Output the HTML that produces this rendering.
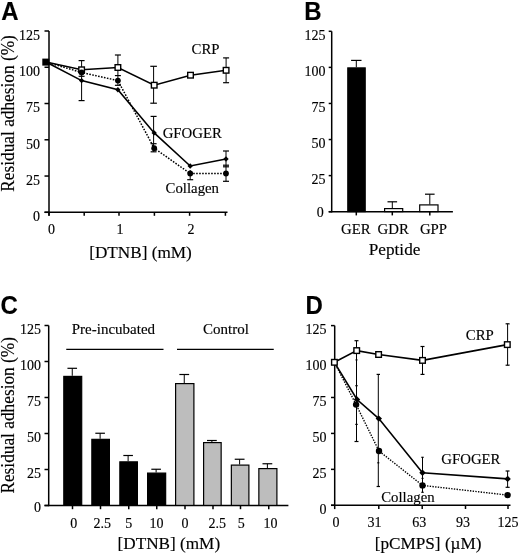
<!DOCTYPE html>
<html><head><meta charset="utf-8"><style>
html,body{margin:0;padding:0;background:#fff;}
svg{display:block;will-change:transform;}
</style></head><body>
<svg width="520" height="555" viewBox="0 0 520 555" stroke="#000" fill="#000">
<g stroke="#000" fill="#000">
<text stroke="#000" stroke-width="0.15" transform="translate(1.3,20.0) scale(0.98,1.06)" font-size="24.5" font-family="'Liberation Sans', sans-serif" font-weight="bold">A</text>
<text stroke="#000" stroke-width="0.15" transform="translate(14.2,191.7) rotate(-90) scale(1,1.08)" font-size="17.3" font-family="'Liberation Serif', serif">Residual adhesion (%)</text>
<line x1="49" y1="31" x2="49" y2="215.8" stroke-width="1.5" />
<line x1="44.5" y1="212.3" x2="227.5" y2="212.3" stroke-width="1.5" />
<line x1="44.5" y1="212.3" x2="49" y2="212.3" stroke-width="1.5" />
<text stroke="#000" stroke-width="0.15" x="40" y="221.1" font-size="14" text-anchor="end" font-family="'Liberation Serif', serif" font-weight="normal" >0</text>
<line x1="44.5" y1="176.04" x2="49" y2="176.04" stroke-width="1.5" />
<text stroke="#000" stroke-width="0.15" x="40" y="184.84" font-size="14" text-anchor="end" font-family="'Liberation Serif', serif" font-weight="normal" >25</text>
<line x1="44.5" y1="139.78" x2="49" y2="139.78" stroke-width="1.5" />
<text stroke="#000" stroke-width="0.15" x="40" y="148.58" font-size="14" text-anchor="end" font-family="'Liberation Serif', serif" font-weight="normal" >50</text>
<line x1="44.5" y1="103.52" x2="49" y2="103.52" stroke-width="1.5" />
<text stroke="#000" stroke-width="0.15" x="40" y="112.32" font-size="14" text-anchor="end" font-family="'Liberation Serif', serif" font-weight="normal" >75</text>
<line x1="44.5" y1="67.26" x2="49" y2="67.26" stroke-width="1.5" />
<text stroke="#000" stroke-width="0.15" x="40" y="76.06" font-size="14" text-anchor="end" font-family="'Liberation Serif', serif" font-weight="normal" >100</text>
<line x1="44.5" y1="31.0" x2="49" y2="31.0" stroke-width="1.5" />
<text stroke="#000" stroke-width="0.15" x="40" y="39.8" font-size="14" text-anchor="end" font-family="'Liberation Serif', serif" font-weight="normal" >125</text>
<line x1="49" y1="212.3" x2="49" y2="215.8" stroke-width="1.5" />
<line x1="84.2" y1="212.3" x2="84.2" y2="215.8" stroke-width="1.5" />
<line x1="119" y1="212.3" x2="119" y2="215.8" stroke-width="1.5" />
<line x1="154.4" y1="212.3" x2="154.4" y2="215.8" stroke-width="1.5" />
<line x1="189.6" y1="212.3" x2="189.6" y2="215.8" stroke-width="1.5" />
<line x1="225.4" y1="212.3" x2="225.4" y2="215.8" stroke-width="1.5" />
<text stroke="#000" stroke-width="0.15" x="51.4" y="234" font-size="14" text-anchor="middle" font-family="'Liberation Serif', serif" font-weight="normal" >0</text>
<text stroke="#000" stroke-width="0.15" x="120" y="234" font-size="14" text-anchor="middle" font-family="'Liberation Serif', serif" font-weight="normal" >1</text>
<text stroke="#000" stroke-width="0.15" x="191" y="234" font-size="14" text-anchor="middle" font-family="'Liberation Serif', serif" font-weight="normal" >2</text>
<text stroke="#000" stroke-width="0.15" x="89.2" y="257.6" font-size="17.2" text-anchor="start" font-family="'Liberation Serif', serif" font-weight="normal" >[DTNB] (mM)</text>
<line x1="81.6" y1="60.6" x2="81.6" y2="100.6" stroke-width="1.0" />
<line x1="78.6" y1="60.6" x2="84.6" y2="60.6" stroke-width="1.2" />
<line x1="78.6" y1="100.6" x2="84.6" y2="100.6" stroke-width="1.2" />
<line x1="78.6" y1="76.3" x2="84.6" y2="76.3" stroke-width="1.2" />
<line x1="117.9" y1="55" x2="117.9" y2="85.3" stroke-width="1.0" />
<line x1="114.9" y1="55" x2="120.9" y2="55" stroke-width="1.2" />
<line x1="114.9" y1="85.3" x2="120.9" y2="85.3" stroke-width="1.2" />
<line x1="114.9" y1="75.6" x2="120.9" y2="75.6" stroke-width="1.2" />
<line x1="153.6" y1="66.3" x2="153.6" y2="103.2" stroke-width="1.0" />
<line x1="150.3" y1="66.3" x2="156.9" y2="66.3" stroke-width="1.2" />
<line x1="150.3" y1="103.2" x2="156.9" y2="103.2" stroke-width="1.2" />
<line x1="153.6" y1="116.4" x2="153.6" y2="151.8" stroke-width="1.0" />
<line x1="150.6" y1="116.4" x2="156.6" y2="116.4" stroke-width="1.2" />
<line x1="150.6" y1="151.8" x2="156.6" y2="151.8" stroke-width="1.2" />
<line x1="150.6" y1="143.7" x2="156.6" y2="143.7" stroke-width="1.2" />
<line x1="190.2" y1="170" x2="190.2" y2="179.7" stroke-width="1.0" />
<line x1="187.2" y1="179.7" x2="193.2" y2="179.7" stroke-width="1.2" />
<line x1="226" y1="151" x2="226" y2="181.3" stroke-width="1.0" />
<line x1="223.0" y1="151" x2="229.0" y2="151" stroke-width="1.2" />
<line x1="223.0" y1="181.3" x2="229.0" y2="181.3" stroke-width="1.2" />
<line x1="223.0" y1="165.2" x2="229.0" y2="165.2" stroke-width="1.2" />
<line x1="223.0" y1="166.8" x2="229.0" y2="166.8" stroke-width="1.2" />
<line x1="226.1" y1="57.9" x2="226.1" y2="82.7" stroke-width="1.0" />
<line x1="223.1" y1="57.9" x2="229.1" y2="57.9" stroke-width="1.2" />
<line x1="223.1" y1="82.7" x2="229.1" y2="82.7" stroke-width="1.2" />
<polyline points="46,62 81.6,72.5 117.9,80.6 154.2,148.2 190.2,173.5 226,173.5" fill="none" stroke-width="1.5" stroke-dasharray="1.6,1.4"/>
<polyline points="46,62 81.6,80.6 117.9,89.7 154.2,132.9 190.2,166 226,159" fill="none" stroke-width="1.6" />
<polyline points="46,62 81.6,69.8 117.9,67.5 154.2,85.2 190.5,75.2 226.1,70.3" fill="none" stroke-width="1.6" />
<rect x="78.8" y="67.0" width="5.6" height="5.6" fill="#fff" stroke-width="1.4"/>
<rect x="115.1" y="64.7" width="5.6" height="5.6" fill="#fff" stroke-width="1.4"/>
<rect x="151.4" y="82.4" width="5.6" height="5.6" fill="#fff" stroke-width="1.4"/>
<rect x="187.7" y="72.4" width="5.6" height="5.6" fill="#fff" stroke-width="1.4"/>
<rect x="223.3" y="67.5" width="5.6" height="5.6" fill="#fff" stroke-width="1.4"/>
<circle cx="81.6" cy="72.5" r="2.9" fill="#000" stroke="none"/>
<circle cx="117.9" cy="80.6" r="2.9" fill="#000" stroke="none"/>
<circle cx="154.2" cy="148.2" r="2.9" fill="#000" stroke="none"/>
<circle cx="190.2" cy="173.5" r="2.9" fill="#000" stroke="none"/>
<circle cx="226" cy="173.5" r="2.9" fill="#000" stroke="none"/>
<polygon points="81.6,77.9 84.3,80.6 81.6,83.3 78.9,80.6" fill="#000" stroke="none"/>
<polygon points="117.9,87.0 120.6,89.7 117.9,92.4 115.2,89.7" fill="#000" stroke="none"/>
<polygon points="154.2,130.2 156.9,132.9 154.2,135.6 151.5,132.9" fill="#000" stroke="none"/>
<polygon points="190.2,163.3 192.9,166 190.2,168.7 187.5,166" fill="#000" stroke="none"/>
<polygon points="226,156.3 228.7,159 226,161.7 223.3,159" fill="#000" stroke="none"/>
<rect x="42.3" y="58.6" width="7" height="7" fill="#000" stroke="none"/>
<text stroke="#000" stroke-width="0.15" x="191.6" y="53.8" font-size="14.8" text-anchor="start" font-family="'Liberation Serif', serif" font-weight="normal" >CRP</text>
<text stroke="#000" stroke-width="0.15" x="162.7" y="138" font-size="14.8" text-anchor="start" font-family="'Liberation Serif', serif" font-weight="normal" >GFOGER</text>
<text stroke="#000" stroke-width="0.15" x="165.6" y="193.2" font-size="14.8" text-anchor="start" font-family="'Liberation Serif', serif" font-weight="normal" >Collagen</text>
<text stroke="#000" stroke-width="0.15" transform="translate(304.3,19.7) scale(0.98,1.06)" font-size="24.5" font-family="'Liberation Sans', sans-serif" font-weight="bold">B</text>
<line x1="331.7" y1="31.3" x2="331.7" y2="212.4" stroke-width="1.5" />
<line x1="328.7" y1="211.7" x2="452.9" y2="211.7" stroke-width="1.5" />
<line x1="328.7" y1="211.7" x2="331.7" y2="211.7" stroke-width="1.5" />
<text stroke="#000" stroke-width="0.15" x="323.7" y="216.5" font-size="14" text-anchor="end" font-family="'Liberation Serif', serif" font-weight="normal" >0</text>
<line x1="328.7" y1="175.62" x2="331.7" y2="175.62" stroke-width="1.5" />
<text stroke="#000" stroke-width="0.15" x="325.6" y="184.22" font-size="14" text-anchor="end" font-family="'Liberation Serif', serif" font-weight="normal" >25</text>
<line x1="328.7" y1="139.54" x2="331.7" y2="139.54" stroke-width="1.5" />
<text stroke="#000" stroke-width="0.15" x="325.6" y="148.14" font-size="14" text-anchor="end" font-family="'Liberation Serif', serif" font-weight="normal" >50</text>
<line x1="328.7" y1="103.46" x2="331.7" y2="103.46" stroke-width="1.5" />
<text stroke="#000" stroke-width="0.15" x="325.6" y="112.06" font-size="14" text-anchor="end" font-family="'Liberation Serif', serif" font-weight="normal" >75</text>
<line x1="328.7" y1="67.38" x2="331.7" y2="67.38" stroke-width="1.5" />
<text stroke="#000" stroke-width="0.15" x="325.6" y="75.98" font-size="14" text-anchor="end" font-family="'Liberation Serif', serif" font-weight="normal" >100</text>
<line x1="328.7" y1="31.3" x2="331.7" y2="31.3" stroke-width="1.5" />
<text stroke="#000" stroke-width="0.15" x="325.6" y="39.9" font-size="14" text-anchor="end" font-family="'Liberation Serif', serif" font-weight="normal" >125</text>
<line x1="356.3" y1="211.7" x2="356.3" y2="215.4" stroke-width="1.5" />
<line x1="392.3" y1="211.7" x2="392.3" y2="215.4" stroke-width="1.5" />
<line x1="429.8" y1="211.7" x2="429.8" y2="215.4" stroke-width="1.5" />
<line x1="356.3" y1="60.4" x2="356.3" y2="67.3" stroke-width="1.0" />
<line x1="351.1" y1="60.4" x2="361.5" y2="60.4" stroke-width="1.2" />
<line x1="392.3" y1="201.8" x2="392.3" y2="208.3" stroke-width="1.0" />
<line x1="387.5" y1="201.8" x2="397.1" y2="201.8" stroke-width="1.2" />
<line x1="429.8" y1="194.2" x2="429.8" y2="204.5" stroke-width="1.0" />
<line x1="425.0" y1="194.2" x2="434.6" y2="194.2" stroke-width="1.2" />
<rect x="347.8" y="67.9" width="17.4" height="143.7" fill="#000" stroke-width="1.2"/>
<rect x="384.6" y="208.6" width="18.1" height="3" fill="#fff" stroke-width="1.2"/>
<rect x="419.7" y="204.9" width="18.3" height="6.7" fill="#fff" stroke-width="1.2"/>
<text stroke="#000" stroke-width="0.15" x="355.8" y="233.8" font-size="14.8" text-anchor="middle" font-family="'Liberation Serif', serif" font-weight="normal" >GER</text>
<text stroke="#000" stroke-width="0.15" x="393.2" y="233.8" font-size="14.8" text-anchor="middle" font-family="'Liberation Serif', serif" font-weight="normal" >GDR</text>
<text stroke="#000" stroke-width="0.15" x="433.5" y="233.8" font-size="14.8" text-anchor="middle" font-family="'Liberation Serif', serif" font-weight="normal" >GPP</text>
<text stroke="#000" stroke-width="0.15" x="394.6" y="255" font-size="17.2" text-anchor="middle" font-family="'Liberation Serif', serif" font-weight="normal" >Peptide</text>
<text stroke="#000" stroke-width="0.15" transform="translate(0.5,314.2) scale(0.98,1.06)" font-size="24.5" font-family="'Liberation Sans', sans-serif" font-weight="bold">C</text>
<text stroke="#000" stroke-width="0.15" transform="translate(14.2,493.6) rotate(-90) scale(1,1.08)" font-size="17.3" font-family="'Liberation Serif', serif">Residual adhesion (%)</text>
<line x1="48.7" y1="325.5" x2="48.7" y2="506.2" stroke-width="1.5" />
<line x1="44.5" y1="505.5" x2="288.4" y2="505.5" stroke-width="1.5" />
<line x1="44.5" y1="505.5" x2="48.7" y2="505.5" stroke-width="1.5" />
<text stroke="#000" stroke-width="0.15" x="41" y="511.5" font-size="14" text-anchor="end" font-family="'Liberation Serif', serif" font-weight="normal" >0</text>
<line x1="44.5" y1="469.5" x2="48.7" y2="469.5" stroke-width="1.5" />
<text stroke="#000" stroke-width="0.15" x="41" y="478.3" font-size="14" text-anchor="end" font-family="'Liberation Serif', serif" font-weight="normal" >25</text>
<line x1="44.5" y1="433.5" x2="48.7" y2="433.5" stroke-width="1.5" />
<text stroke="#000" stroke-width="0.15" x="41" y="442.3" font-size="14" text-anchor="end" font-family="'Liberation Serif', serif" font-weight="normal" >50</text>
<line x1="44.5" y1="397.5" x2="48.7" y2="397.5" stroke-width="1.5" />
<text stroke="#000" stroke-width="0.15" x="41" y="406.3" font-size="14" text-anchor="end" font-family="'Liberation Serif', serif" font-weight="normal" >75</text>
<line x1="44.5" y1="361.5" x2="48.7" y2="361.5" stroke-width="1.5" />
<text stroke="#000" stroke-width="0.15" x="41" y="370.3" font-size="14" text-anchor="end" font-family="'Liberation Serif', serif" font-weight="normal" >100</text>
<line x1="44.5" y1="325.5" x2="48.7" y2="325.5" stroke-width="1.5" />
<text stroke="#000" stroke-width="0.15" x="41" y="334.3" font-size="14" text-anchor="end" font-family="'Liberation Serif', serif" font-weight="normal" >125</text>
<line x1="72.5" y1="505.5" x2="72.5" y2="509.2" stroke-width="1.5" />
<line x1="100.5" y1="505.5" x2="100.5" y2="509.2" stroke-width="1.5" />
<line x1="128.75" y1="505.5" x2="128.75" y2="509.2" stroke-width="1.5" />
<line x1="156.75" y1="505.5" x2="156.75" y2="509.2" stroke-width="1.5" />
<line x1="185" y1="505.5" x2="185" y2="509.2" stroke-width="1.5" />
<line x1="213" y1="505.5" x2="213" y2="509.2" stroke-width="1.5" />
<line x1="240.5" y1="505.5" x2="240.5" y2="509.2" stroke-width="1.5" />
<line x1="268.75" y1="505.5" x2="268.75" y2="509.2" stroke-width="1.5" />
<line x1="72.25" y1="368.3" x2="72.25" y2="375.8" stroke-width="1.0" />
<line x1="67.45" y1="368.3" x2="77.05" y2="368.3" stroke-width="1.2" />
<rect x="63.8" y="376.4" width="17.9" height="129.0" fill="#000" stroke-width="1.2"/>
<line x1="100.12" y1="433.25" x2="100.12" y2="438.75" stroke-width="1.0" />
<line x1="95.33" y1="433.25" x2="104.92" y2="433.25" stroke-width="1.2" />
<rect x="91.85" y="439.35" width="17.55" height="66.05" fill="#000" stroke-width="1.2"/>
<line x1="128.12" y1="455.5" x2="128.12" y2="461.25" stroke-width="1.0" />
<line x1="123.33" y1="455.5" x2="132.93" y2="455.5" stroke-width="1.2" />
<rect x="119.85" y="461.85" width="17.55" height="43.55" fill="#000" stroke-width="1.2"/>
<line x1="156.12" y1="469.25" x2="156.12" y2="472.5" stroke-width="1.0" />
<line x1="151.32" y1="469.25" x2="160.93" y2="469.25" stroke-width="1.2" />
<rect x="147.6" y="473.1" width="18.05" height="32.3" fill="#000" stroke-width="1.2"/>
<line x1="184.25" y1="374.5" x2="184.25" y2="383" stroke-width="1.0" />
<line x1="179.35" y1="374.5" x2="189.15" y2="374.5" stroke-width="1.2" />
<rect x="175.6" y="383.6" width="18.3" height="121.8" fill="#bdbdbd" stroke-width="1.2"/>
<line x1="211.88" y1="440.5" x2="211.88" y2="442" stroke-width="1.0" />
<line x1="206.97" y1="440.5" x2="216.78" y2="440.5" stroke-width="1.2" />
<rect x="203.6" y="442.6" width="17.55" height="62.8" fill="#bdbdbd" stroke-width="1.2"/>
<line x1="239.62" y1="459.25" x2="239.62" y2="464.5" stroke-width="1.0" />
<line x1="234.72" y1="459.25" x2="244.53" y2="459.25" stroke-width="1.2" />
<rect x="231.35" y="465.1" width="17.55" height="40.3" fill="#bdbdbd" stroke-width="1.2"/>
<line x1="267.38" y1="463.75" x2="267.38" y2="468" stroke-width="1.0" />
<line x1="262.48" y1="463.75" x2="272.27" y2="463.75" stroke-width="1.2" />
<rect x="258.85" y="468.6" width="18.05" height="36.8" fill="#bdbdbd" stroke-width="1.2"/>
<text stroke="#000" stroke-width="0.15" x="73.75" y="527.5" font-size="14" text-anchor="middle" font-family="'Liberation Serif', serif" font-weight="normal" >0</text>
<text stroke="#000" stroke-width="0.15" x="102.25" y="527.5" font-size="14" text-anchor="middle" font-family="'Liberation Serif', serif" font-weight="normal" >2.5</text>
<text stroke="#000" stroke-width="0.15" x="128.75" y="527.5" font-size="14" text-anchor="middle" font-family="'Liberation Serif', serif" font-weight="normal" >5</text>
<text stroke="#000" stroke-width="0.15" x="156.6" y="527.5" font-size="14" text-anchor="middle" font-family="'Liberation Serif', serif" font-weight="normal" >10</text>
<text stroke="#000" stroke-width="0.15" x="185" y="527.5" font-size="14" text-anchor="middle" font-family="'Liberation Serif', serif" font-weight="normal" >0</text>
<text stroke="#000" stroke-width="0.15" x="217.25" y="527.5" font-size="14" text-anchor="middle" font-family="'Liberation Serif', serif" font-weight="normal" >2.5</text>
<text stroke="#000" stroke-width="0.15" x="241.25" y="527.5" font-size="14" text-anchor="middle" font-family="'Liberation Serif', serif" font-weight="normal" >5</text>
<text stroke="#000" stroke-width="0.15" x="270.6" y="527.5" font-size="14" text-anchor="middle" font-family="'Liberation Serif', serif" font-weight="normal" >10</text>
<text stroke="#000" stroke-width="0.15" x="71.75" y="333.75" font-size="15" text-anchor="start" font-family="'Liberation Serif', serif" font-weight="normal" >Pre-incubated</text>
<text stroke="#000" stroke-width="0.15" x="203" y="334.25" font-size="15" text-anchor="start" font-family="'Liberation Serif', serif" font-weight="normal" >Control</text>
<line x1="66.25" y1="349.3" x2="163.5" y2="349.3" stroke-width="1.3" />
<line x1="177" y1="349.3" x2="273.75" y2="349.3" stroke-width="1.3" />
<text stroke="#000" stroke-width="0.15" x="117.5" y="549" font-size="17.2" text-anchor="start" font-family="'Liberation Serif', serif" font-weight="normal" >[DTNB] (mM)</text>
<text stroke="#000" stroke-width="0.15" transform="translate(305.5,314.0) scale(0.98,1.06)" font-size="24.5" font-family="'Liberation Sans', sans-serif" font-weight="bold">D</text>
<line x1="334.7" y1="325.6" x2="334.7" y2="509.1" stroke-width="1.5" />
<line x1="331" y1="505.3" x2="510.5" y2="505.3" stroke-width="1.5" />
<line x1="331" y1="505.3" x2="334.7" y2="505.3" stroke-width="1.5" />
<text stroke="#000" stroke-width="0.15" x="326.4" y="514.1" font-size="14" text-anchor="end" font-family="'Liberation Serif', serif" font-weight="normal" >0</text>
<line x1="331" y1="469.36" x2="334.7" y2="469.36" stroke-width="1.5" />
<text stroke="#000" stroke-width="0.15" x="326.4" y="478.16" font-size="14" text-anchor="end" font-family="'Liberation Serif', serif" font-weight="normal" >25</text>
<line x1="331" y1="433.42" x2="334.7" y2="433.42" stroke-width="1.5" />
<text stroke="#000" stroke-width="0.15" x="326.4" y="442.22" font-size="14" text-anchor="end" font-family="'Liberation Serif', serif" font-weight="normal" >50</text>
<line x1="331" y1="397.48" x2="334.7" y2="397.48" stroke-width="1.5" />
<text stroke="#000" stroke-width="0.15" x="326.4" y="406.28" font-size="14" text-anchor="end" font-family="'Liberation Serif', serif" font-weight="normal" >75</text>
<line x1="331" y1="361.54" x2="334.7" y2="361.54" stroke-width="1.5" />
<text stroke="#000" stroke-width="0.15" x="326.4" y="370.34" font-size="14" text-anchor="end" font-family="'Liberation Serif', serif" font-weight="normal" >100</text>
<line x1="331" y1="325.6" x2="334.7" y2="325.6" stroke-width="1.5" />
<text stroke="#000" stroke-width="0.15" x="326.4" y="334.4" font-size="14" text-anchor="end" font-family="'Liberation Serif', serif" font-weight="normal" >125</text>
<line x1="378.8" y1="505.3" x2="378.8" y2="509.0" stroke-width="1.5" />
<line x1="422.2" y1="505.3" x2="422.2" y2="509.0" stroke-width="1.5" />
<line x1="465.5" y1="505.3" x2="465.5" y2="509.0" stroke-width="1.5" />
<line x1="508" y1="505.3" x2="508" y2="509.0" stroke-width="1.5" />
<text stroke="#000" stroke-width="0.15" x="336" y="526.5" font-size="14" text-anchor="middle" font-family="'Liberation Serif', serif" font-weight="normal" >0</text>
<text stroke="#000" stroke-width="0.15" x="374.6" y="526.5" font-size="14" text-anchor="middle" font-family="'Liberation Serif', serif" font-weight="normal" >31</text>
<text stroke="#000" stroke-width="0.15" x="419.3" y="526.5" font-size="14" text-anchor="middle" font-family="'Liberation Serif', serif" font-weight="normal" >63</text>
<text stroke="#000" stroke-width="0.15" x="463" y="526.5" font-size="14" text-anchor="middle" font-family="'Liberation Serif', serif" font-weight="normal" >93</text>
<text stroke="#000" stroke-width="0.15" x="508" y="526.5" font-size="14" text-anchor="middle" font-family="'Liberation Serif', serif" font-weight="normal" >125</text>
<text stroke="#000" stroke-width="0.15" x="374.7" y="549" font-size="17.2" text-anchor="start" font-family="'Liberation Serif', serif" font-weight="normal" >[pCMPS] (µM)</text>
<line x1="356.5" y1="340.7" x2="356.5" y2="441.5" stroke-width="1.0" />
<line x1="354.5" y1="340.7" x2="358.5" y2="340.7" stroke-width="1.2" />
<line x1="354.5" y1="441.5" x2="358.5" y2="441.5" stroke-width="1.2" />
<line x1="355.5" y1="359.9" x2="357.5" y2="359.9" stroke-width="1.2" />
<line x1="355.3" y1="385.7" x2="357.7" y2="385.7" stroke-width="1.2" />
<line x1="355.3" y1="424.4" x2="357.7" y2="424.4" stroke-width="1.2" />
<line x1="378.3" y1="374.4" x2="378.3" y2="486.5" stroke-width="1.0" />
<line x1="376.6" y1="374.4" x2="380.0" y2="374.4" stroke-width="1.2" />
<line x1="376.6" y1="486.5" x2="380.0" y2="486.5" stroke-width="1.2" />
<line x1="377.3" y1="462.8" x2="379.3" y2="462.8" stroke-width="1.2" />
<line x1="422.5" y1="346.5" x2="422.5" y2="374.4" stroke-width="1.0" />
<line x1="420.5" y1="346.5" x2="424.5" y2="346.5" stroke-width="1.2" />
<line x1="420.5" y1="374.4" x2="424.5" y2="374.4" stroke-width="1.2" />
<line x1="422.5" y1="457.3" x2="422.5" y2="492.3" stroke-width="1.0" />
<line x1="421.3" y1="457.3" x2="423.7" y2="457.3" stroke-width="1.2" />
<line x1="421.3" y1="492.3" x2="423.7" y2="492.3" stroke-width="1.2" />
<line x1="421.5" y1="478.4" x2="423.5" y2="478.4" stroke-width="1.2" />
<line x1="507.6" y1="323.8" x2="507.6" y2="365.2" stroke-width="1.0" />
<line x1="505.6" y1="323.8" x2="509.6" y2="323.8" stroke-width="1.2" />
<line x1="505.6" y1="365.2" x2="509.6" y2="365.2" stroke-width="1.2" />
<line x1="507.6" y1="471" x2="507.6" y2="487.3" stroke-width="1.0" />
<line x1="505.6" y1="471" x2="509.6" y2="471" stroke-width="1.2" />
<line x1="505.6" y1="487.3" x2="509.6" y2="487.3" stroke-width="1.2" />
<polyline points="334.4,362.3 356.1,404.6 379,451 422.5,485.4 507.6,495.1" fill="none" stroke-width="1.4" stroke-dasharray="1.4,1.3"/>
<polyline points="334.4,362.3 357,399.5 378.8,418.6 422.5,472.8 507.6,478.9" fill="none" stroke-width="1.6" />
<polyline points="334.4,362.3 356.7,350.6 378.6,354.5 422.5,360.4 507.3,344.6" fill="none" stroke-width="1.6" />
<circle cx="356.1" cy="404.6" r="3.2" fill="#000" stroke="none"/>
<circle cx="379" cy="451" r="3.2" fill="#000" stroke="none"/>
<circle cx="422.5" cy="485.4" r="3.2" fill="#000" stroke="none"/>
<circle cx="507.6" cy="495.1" r="3.2" fill="#000" stroke="none"/>
<polygon points="357,396.3 360.2,399.5 357,402.7 353.8,399.5" fill="#000" stroke="none"/>
<polygon points="378.8,415.4 382.0,418.6 378.8,421.8 375.6,418.6" fill="#000" stroke="none"/>
<polygon points="422.5,469.6 425.7,472.8 422.5,476.0 419.3,472.8" fill="#000" stroke="none"/>
<polygon points="507.6,475.7 510.8,478.9 507.6,482.1 504.4,478.9" fill="#000" stroke="none"/>
<rect x="331.6" y="359.5" width="5.6" height="5.6" fill="#fff" stroke-width="1.4"/>
<rect x="353.9" y="347.8" width="5.6" height="5.6" fill="#fff" stroke-width="1.4"/>
<rect x="375.8" y="351.7" width="5.6" height="5.6" fill="#fff" stroke-width="1.4"/>
<rect x="419.7" y="357.6" width="5.6" height="5.6" fill="#fff" stroke-width="1.4"/>
<rect x="504.5" y="341.8" width="5.6" height="5.6" fill="#fff" stroke-width="1.4"/>
<text stroke="#000" stroke-width="0.15" x="465.8" y="340.3" font-size="14.8" text-anchor="start" font-family="'Liberation Serif', serif" font-weight="normal" >CRP</text>
<text stroke="#000" stroke-width="0.15" x="441.3" y="464.2" font-size="14.8" text-anchor="start" font-family="'Liberation Serif', serif" font-weight="normal" >GFOGER</text>
<text stroke="#000" stroke-width="0.15" x="381.2" y="501.9" font-size="14.8" text-anchor="start" font-family="'Liberation Serif', serif" font-weight="normal" >Collagen</text>
</g>
</svg>
</body></html>
